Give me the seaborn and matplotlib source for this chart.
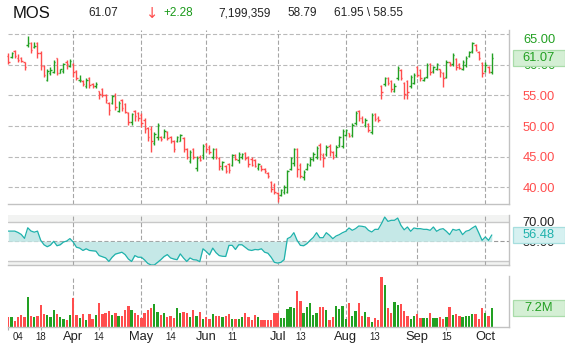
import numpy as np
import pandas as pd
import seaborn as sns
import matplotlib
matplotlib.use("Agg")
import matplotlib.pyplot as plt
from matplotlib.patches import Rectangle
from matplotlib.transforms import ScaledTranslation

# Intestazione del grafico
ticker = "MOS"
last_txt = "61.07"
change_txt = "+2.28"
volume_txt = "7,199,359"
open_txt = "58.79"
range_txt = "61.95 \\ 58.55"
prev_close = 58.79

# Barre OHLC (mar-ott 2010)
opens = [
    61.45, 61.35, 62.2, 61.1, 61.2, 60.4, 63.25, 63.6, 63.0, 63.5,
    62.0, 59.8, 57.6, 58.6, 58.9, 61.1, 58.7, 59.05, 60.4, 59.8,
    60.2, 59.0, 57.5, 57.4, 56.6, 57.9, 56.9, 56.5, 55.7, 56.0,
    55.0, 53.8, 53.8, 55.0, 52.5, 54.2, 53.6, 52.2, 50.6, 52.4, 52.2,
    51.8, 51.0, 49.7, 49.5, 47.3, 48.2, 48.2, 48.2, 49.0, 48.2,
    47.5, 47.5, 47.6, 48.0, 46.3, 44.3, 46.2, 43.2, 45.0, 45.2,
    47.0, 46.6, 45.0, 46.3, 44.8, 43.2, 43.4, 43.8, 43.7, 45.2, 44.4,
    44.9, 45.6, 44.9, 44.7, 44.5, 43.2, 43.5, 43.0, 42.4, 40.8, 40.4,
    39.0, 38.8, 39.2, 39.3, 43.0, 44.0, 46.2, 43.6, 41.6, 43.0, 43.7,
    44.6, 45.0, 46.9, 45.3, 45.4, 46.8, 45.8, 45.2, 46.9, 46.7,
    48.6, 48.8, 48.5, 50.5, 52.5, 51.3, 50.2, 50.3, 49.0, 51.9, 51.4,
    56.5, 56.8, 57.9, 57.3, 55.8, 57.9, 59.1, 57.0, 57.3, 56.5, 57.0,
    59.6, 59.2, 57.6, 58.0, 60.1, 59.0, 59.4, 59.3, 58.7, 58.1, 60.4,
    60.1, 60.9, 60.2, 59.4, 60.0, 61.5, 62.2, 63.2, 62.1, 60.3,
    59.0, 59.6, 58.79,
]
highs = [
    62.0, 62.05, 62.4, 61.8, 61.3, 60.5, 64.7, 63.74, 63.74, 63.74,
    62.2, 60.0, 59.3, 59.7, 60.8, 61.2, 59.4, 60.3, 60.8, 60.9,
    60.3, 59.2, 58.35, 57.6, 57.8, 58.1, 57.0, 57.25, 55.8, 56.3,
    55.25, 54.0, 55.1, 55.35, 54.15, 54.4, 53.8, 52.35, 52.1, 52.7, 52.35,
    52.1, 51.3, 49.9, 50.0, 49.1, 50.45, 48.4, 49.5, 49.2, 48.4,
    47.7, 48.4, 48.7, 48.2, 46.5, 46.1, 46.5, 45.1, 45.3, 47.05,
    47.2, 46.9, 46.5, 46.5, 45.0, 44.35, 43.6, 44.0, 45.4, 45.4, 45.8,
    45.55, 45.8, 45.1, 45.0, 44.7, 44.0, 43.6, 43.1, 42.55, 41.0, 40.65,
    39.3, 39.8, 40.4, 42.9, 45.0, 46.5, 46.4, 43.9, 42.8, 44.0, 45.0,
    45.8, 46.7, 47.2, 45.65, 46.9, 47.05, 46.0, 46.9, 48.4, 49.5,
    49.6, 48.9, 50.45, 52.5, 52.7, 51.65, 51.3, 50.45, 52.1, 52.1, 51.6,
    56.7, 58.1, 58.1, 57.5, 57.0, 59.8, 59.3, 57.25, 57.6, 58.35, 58.6,
    59.8, 59.4, 58.1, 60.3, 60.3, 59.8, 60.3, 59.4, 58.9, 60.8, 60.5,
    61.9, 61.1, 60.3, 60.8, 61.45, 62.3, 63.8, 63.4, 62.3, 60.5,
    60.5, 59.8, 61.95,
]
lows = [
    60.1, 61.2, 61.2, 60.5, 60.5, 59.1, 63.0, 61.9, 62.7, 61.1,
    59.2, 58.1, 57.3, 58.35, 58.6, 58.35, 58.6, 58.7, 59.4, 59.6,
    58.0, 57.5, 57.25, 56.55, 56.3, 56.3, 56.3, 56.2, 54.5, 54.8,
    53.8, 51.8, 53.6, 52.6, 52.25, 52.5, 52.1, 50.2, 50.2, 50.9, 50.9,
    49.9, 48.8, 47.5, 45.7, 46.9, 47.7, 47.6, 48.0, 47.7, 47.2,
    45.7, 47.45, 47.5, 45.8, 44.7, 44.0, 44.6, 42.7, 44.3, 44.7,
    45.8, 45.4, 44.7, 44.6, 42.9, 42.9, 42.3, 42.3, 43.4, 44.45, 44.0,
    44.7, 44.45, 43.25, 43.4, 43.25, 42.9, 42.7, 42.4, 41.5, 39.3, 38.9,
    37.65, 38.5, 38.9, 39.0, 42.8, 43.4, 41.7, 41.5, 41.2, 42.8, 43.4,
    44.35, 44.7, 44.45, 43.25, 45.1, 45.1, 44.7, 44.9, 46.6, 46.4,
    48.3, 48.2, 48.2, 50.2, 50.9, 50.45, 49.9, 49.1, 48.7, 50.8, 50.7,
    54.4, 56.55, 56.7, 55.6, 55.6, 57.6, 57.5, 54.4, 54.5, 56.2, 56.9,
    58.1, 57.4, 57.4, 57.8, 58.35, 58.6, 59.2, 58.1, 56.4, 57.8, 59.8,
    59.8, 59.2, 59.3, 59.2, 59.7, 61.35, 61.9, 62.2, 60.8, 58.0,
    58.9, 58.6, 58.55,
]
closes = [
    60.4, 61.9, 61.45, 60.8, 60.6, 59.6, 63.6, 62.4, 63.1, 61.9,
    59.8, 58.35, 59.05, 59.2, 60.5, 58.6, 59.3, 60.1, 60.15, 60.6,
    58.9, 57.8, 57.6, 56.8, 57.6, 56.7, 56.5, 56.9, 55.3, 55.0,
    54.3, 52.6, 54.9, 53.2, 53.8, 53.0, 52.3, 50.6, 51.9, 51.6, 51.3,
    50.5, 49.5, 48.2, 47.5, 48.7, 50.2, 47.9, 49.2, 48.0, 47.5,
    46.2, 48.2, 48.5, 46.3, 45.0, 45.8, 44.9, 44.8, 44.5, 46.7,
    46.2, 45.8, 46.3, 44.9, 43.5, 44.1, 42.6, 42.8, 45.2, 44.6, 45.5,
    45.4, 44.8, 43.8, 43.6, 43.5, 43.8, 43.0, 42.6, 41.8, 39.8, 39.3,
    38.2, 39.5, 40.0, 42.6, 44.8, 46.2, 43.0, 41.9, 42.5, 43.8, 44.7,
    45.5, 46.4, 45.5, 44.8, 46.6, 46.0, 45.0, 46.6, 48.2, 49.2,
    49.4, 48.4, 50.2, 52.2, 51.4, 50.7, 51.0, 49.4, 51.8, 51.2, 51.0,
    55.5, 57.8, 57.0, 56.0, 56.6, 59.5, 57.8, 55.2, 55.5, 58.0, 58.4,
    58.4, 57.8, 57.9, 60.0, 58.8, 59.6, 60.1, 58.8, 57.8, 60.5, 59.9,
    61.6, 59.6, 59.5, 60.5, 61.2, 62.1, 63.5, 62.5, 61.2, 58.6,
    60.0, 58.79, 61.07,
]
# Volumi in milioni di azioni
volumes = [
    3.8, 3.8, 2.3, 3.8, 4.4, 3.5, 11.4, 4.0, 3.8, 4.2,
    8.2, 4.8, 4.4, 3.5, 6.3, 4.8, 3.8, 3.0, 2.5, 4.4,
    11.0, 4.4, 3.2, 4.8, 2.5, 4.8, 3.0, 4.4, 9.1, 4.8,
    5.1, 5.9, 4.4, 5.1, 4.2, 4.0, 6.3, 7.8, 6.3, 5.1, 4.4,
    3.4, 5.1, 6.3, 6.9, 8.6, 5.7, 4.4, 5.3, 3.5, 4.0,
    3.2, 6.9, 5.3, 5.7, 5.1, 3.5, 6.3, 4.0, 5.6, 2.8,
    3.5, 2.8, 4.8, 4.2, 4.0, 3.5, 4.0, 4.8, 3.0, 3.0, 3.0,
    3.8, 5.1, 3.8, 2.5, 4.4, 3.5, 2.5, 2.5, 2.5, 2.5, 5.3,
    5.3, 3.4, 3.4, 6.6, 7.6, 6.9, 13.5, 9.8, 5.3, 7.6, 8.8,
    4.3, 5.3, 7.6, 7.6, 6.3, 2.5, 3.5, 8.0, 6.6, 7.8,
    2.8, 8.8, 4.0, 5.9, 8.8, 4.0, 5.7, 3.8, 1.9, 3.2, 2.5,
    18.7, 15.8, 6.9, 5.1, 9.2, 8.2, 8.6, 5.9, 4.0, 2.8, 4.0,
    4.7, 3.2, 3.2, 3.2, 5.1, 3.2, 3.2, 3.5, 2.8, 3.5, 7.3,
    4.4, 4.8, 4.0, 3.5, 4.0, 4.0, 4.8, 4.8, 2.9, 6.9,
    5.1, 4.0, 7.199359,
]
rsi = [
    60.4, 60.4, 60.4, 59.0, 57.0, 53.0, 63.8, 60.5, 59.3, 60.4,
    51.0, 46.5, 44.5, 46.2, 50.0, 45.5, 46.5, 49.3, 50.3, 52.8,
    49.3, 44.0, 43.1, 40.7, 42.4, 40.7, 40.3, 40.0, 35.5, 34.3,
    33.1, 29.5, 33.8, 37.0, 37.9, 38.9, 36.5, 32.0, 29.5, 35.5, 33.8,
    33.8, 31.0, 27.5, 25.9, 25.9, 28.6, 31.3, 34.5, 36.5, 33.1,
    32.0, 31.3, 37.2, 33.0, 29.5, 33.1, 31.3, 31.0, 29.3, 42.4,
    39.6, 36.2, 43.1, 38.5, 35.5, 34.8, 34.6, 45.9, 45.9, 41.7, 46.5,
    46.5, 43.9, 41.4, 40.7, 41.7, 41.4, 42.4, 38.9, 37.9, 33.8, 28.6,
    27.9, 28.6, 31.3, 52.7, 54.4, 58.8, 51.0, 45.9, 45.5, 47.6, 51.0,
    54.0, 58.8, 53.7, 53.7, 58.8, 56.1, 52.7, 55.4, 56.8, 58.8,
    60.2, 63.6, 61.2, 62.9, 65.6, 65.3, 64.6, 61.2, 59.5, 62.2, 62.2,
    68.0, 74.7, 70.3, 71.4, 71.4, 73.7, 66.3, 61.7, 64.6, 60.2, 63.6,
    62.9, 62.9, 62.2, 62.2, 61.2, 64.6, 60.2, 62.2, 62.9, 60.2, 56.8,
    62.2, 61.2, 62.2, 56.8, 60.2, 61.2, 63.6, 65.6, 58.5, 51.0,
    54.4, 51.0, 56.48,
]

price_ticks = [40, 45, 50, 55, 60, 65]
rsi_ticks = [50, 70]
mid_month_days = ["2010-03-04", "2010-03-18", "2010-04-14", "2010-05-14",
                  "2010-06-11", "2010-07-13", "2010-08-13", "2010-09-15"]
holidays = ["2010-04-02", "2010-05-31", "2010-07-05", "2010-09-06"]

GREEN = "#22a022"
RED = "#ff4d4d"
TEAL = "#1fb2ac"
DASH = (0, (3.0, 1.6))

W, H = 565, 351


def fx(px):
    return px / W


def fy(py):
    return 1 - py / H


dates = pd.bdate_range("2010-03-04", "2010-10-05")
dates = dates[~dates.isin(pd.to_datetime(holidays))]
df = pd.DataFrame({"open": opens, "high": highs, "low": lows, "close": closes,
                   "vol": volumes, "rsi": rsi}, index=dates)
df["i"] = np.arange(len(df))
colors = np.where(df["close"] >= df["open"], GREEN, RED)
x = df["i"].values

month_starts = [i for i in range(1, len(dates)) if dates[i].month != dates[i - 1].month]
mid_pos = [dates.get_loc(pd.Timestamp(d)) for d in mid_month_days]

sns.set_style("white")
plt.rcParams["font.family"] = ["Liberation Sans", "DejaVu Sans"]
plt.rcParams["lines.scale_dashes"] = False

fig = plt.figure(figsize=(W / 100, H / 100), dpi=100)
left, right = 8, 509
wd = fx(right) - fx(left)
ax_p = fig.add_axes([fx(left), fy(204), wd, (204 - 30) / H])
ax_r = fig.add_axes([fx(left), fy(265), wd, (265 - 215) / H])
ax_v = fig.add_axes([fx(left), fy(326.7), wd, (326.7 - 276) / H])

# Prezzo (barre OHLC)
for v in price_ticks:
    ax_p.axhline(v, color="#bababa", lw=0.8, ls=DASH, zorder=0)
ax_p.vlines(x, df["low"], df["high"], colors=colors, lw=1.0, zorder=3, clip_on=False)
ax_p.hlines(df["open"], x - 0.45, x, colors=colors, lw=1.0, zorder=3, clip_on=False)
ax_p.hlines(df["close"], x, x + 0.45, colors=colors, lw=1.0, zorder=3, clip_on=False)
ax_p.set_ylim(37.27, 65.70)
ax_p.yaxis.tick_right()
ax_p.set_yticks(price_ticks, labels=[f"{v:.2f}" for v in price_ticks])
ax_p.tick_params(axis="y", length=0, pad=10, labelsize=9.3, right=False)
for v, lbl in zip(price_ticks, ax_p.get_yticklabels()):
    lbl.set_color(GREEN if v > prev_close else RED)
ax_p.get_yticklabels()[-1].set_va("top")

# RSI
ax_r.set_ylim(25.9, 76.8)
ax_r.axhspan(70, 76.8, color="#f2f3f2", lw=0, zorder=0)
ax_r.axhspan(25.9, 30, color="#f2f3f2", lw=0, zorder=0)
ax_r.axhline(70, color="#c8c8c8", lw=1.0, zorder=1)
ax_r.axhline(30, color="#c8c8c8", lw=1.0, zorder=1)
ax_r.axhline(50, color="#9a9a9a", lw=0.8, ls=DASH, zorder=1)
ax_r.fill_between(x, df["rsi"], 50, color="#c5e8e7", lw=0, zorder=2)
sns.lineplot(x=x, y=df["rsi"].values, ax=ax_r, color=TEAL, lw=0.9, zorder=3)
ax_r.yaxis.tick_right()
ax_r.set_yticks(rsi_ticks, labels=[f"{v:.2f}" for v in rsi_ticks])
ax_r.tick_params(axis="y", length=0, pad=10, labelsize=9.3, labelcolor="#222222", right=False)
ax_r.set_ylabel("")

# Volume
ax_v.bar(x, df["vol"], width=0.72, color=colors, lw=0, zorder=2)
ax_v.set_ylim(0, 19.2)
ax_v.set_yticks([])

for ax in (ax_p, ax_r, ax_v):
    ax.set_xlim(-0.09, 154.3)
    for m in month_starts:
        ax.axvline(m, color="#a5a5a5", lw=0.8, ls=DASH, zorder=1)
    for s in ("left", "top"):
        ax.spines[s].set_visible(False)
    for s in ("right", "bottom"):
        ax.spines[s].set_color("#c2c2c2")
        ax.spines[s].set_linewidth(1.0)
    if ax is not ax_v:
        ax.tick_params(axis="x", which="both", bottom=False, labelbottom=False)

# Etichette asse x: mesi grandi, giorni piccoli
ticks = month_starts + mid_pos
labels = [dates[i].strftime("%b") for i in month_starts] + [dates[i].strftime("%d") for i in mid_pos]
ax_v.set_xticks(ticks, labels=labels)
ax_v.set_xticks(mid_pos, minor=True)
ax_v.xaxis.remove_overlapping_locs = False
ax_v.tick_params(axis="x", which="major", bottom=True, length=0, pad=7.4, labelcolor="#222222")
ax_v.tick_params(axis="x", which="minor", bottom=True, length=2.4, width=0.8, color="#aaaaaa")
for k, lbl in enumerate(ax_v.get_xticklabels()):
    lbl.set_va("center")
    lbl.set_fontsize(9.3 if k < len(month_starts) else 6.9)
    if ticks[k] == 0:
        lbl.set_transform(lbl.get_transform() + ScaledTranslation(0.1, 0, fig.dpi_scale_trans))


# Riquadri con l'ultimo valore
def value_box(ax, val, text, face, edge, txt_color):
    yc = ax.transData.transform((0, val))[1] / H
    h = 16 / H
    fig.add_artist(Rectangle((fx(513), yc - h / 2), fx(564.5) - fx(513), h,
                             transform=fig.transFigure, facecolor=face,
                             edgecolor=edge, lw=0.9, zorder=5))
    fig.text(fx(538.7), yc, text, ha="center", va="center", fontsize=9.3,
             color=txt_color, zorder=6)


value_box(ax_p, closes[-1], f"{closes[-1]:.2f}", "#d4efd4", "#a9dca9", GREEN)
value_box(ax_r, rsi[-1], f"{rsi[-1]:.2f}", "#d6f1f1", "#a6dede", TEAL)
value_box(ax_v, volumes[-1], f"{volumes[-1]:.1f}M", "#d4efd4", "#a9dca9", GREEN)

# Intestazione
ty = fy(13)
fig.text(fx(13), ty, ticker, fontsize=12, va="center", color="#111111")
fig.text(fx(88), ty, last_txt, fontsize=8.5, va="center", color="#222222")
fig.text(fx(146), ty, "\u2193", fontsize=10.5, va="center", color=RED,
         family=["DejaVu Sans"])
fig.text(fx(163), ty, change_txt, fontsize=8.5, va="center", color="#1a9a1a")
fig.text(fx(218), ty, volume_txt, fontsize=8.5, va="center", color="#222222")
fig.text(fx(287), ty, open_txt, fontsize=8.5, va="center", color="#222222")
fig.text(fx(334), ty, range_txt, fontsize=8.5, va="center", color="#222222")

fig.savefig("out.png", dpi=100)
